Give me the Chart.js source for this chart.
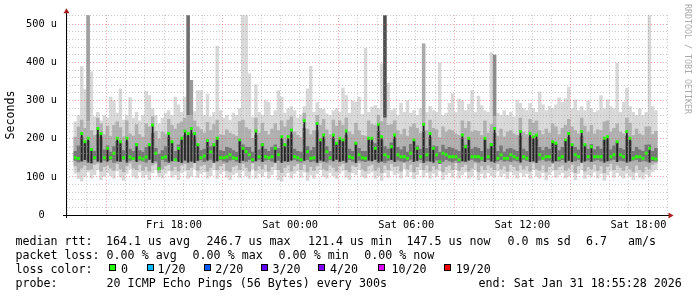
<!DOCTYPE html>
<html>
<head>
<meta charset="utf-8">
<script src="https://cdn.jsdelivr.net/npm/chart.js@4.4.1/dist/chart.umd.min.js"></script>
<style>
  body { margin: 0; background: #fff; }
  #wrap { position: relative; width: 697px; height: 297px; overflow: hidden; }
  canvas { position: absolute; left: 0; top: 0; }
  .t { position: absolute; font-family: 'DejaVu Sans Mono', monospace; font-size: 11.65px; line-height: 14px; white-space: pre; color: #000; }
  .box { position: absolute; top: 264px; width: 5px; height: 5px; border: 1px solid #000; }
  #wm { position: absolute; left: 683px; top: 4px; writing-mode: vertical-rl; font-family: 'DejaVu Sans Mono', monospace; font-size: 8.3px; color: #aaa; white-space: pre; }
</style>
</head>
<body>
<div id="wrap">
  <canvas id="canvas" width="697" height="297"></canvas>
  <div id="wm">RRDTOOL / TOBI OETIKER</div>

  <div class="t" style="left:15.4px;top:234px">median rtt:</div>
  <div class="t" style="left:106px;top:234px">164.1 us avg</div>
  <div class="t" style="left:206.5px;top:234px">246.7 us max</div>
  <div class="t" style="left:308px;top:234px">121.4 us min</div>
  <div class="t" style="left:406.4px;top:234px">147.5 us now</div>
  <div class="t" style="left:507.6px;top:234px">0.0 ms sd</div>
  <div class="t" style="left:586px;top:234px">6.7   am/s</div>

  <div class="t" style="left:15.4px;top:248px">packet loss:</div>
  <div class="t" style="left:106.6px;top:248px">0.00 % avg</div>
  <div class="t" style="left:192.6px;top:248px">0.00 % max</div>
  <div class="t" style="left:278.6px;top:248px">0.00 % min</div>
  <div class="t" style="left:364.3px;top:248px">0.00 % now</div>

  <div class="t" style="left:15.4px;top:261.7px">loss color:</div>
  <div id="losslegend"></div>

  <div class="t" style="left:15.4px;top:275.6px">probe:</div>
  <div class="t" style="left:106.6px;top:275.6px">20 ICMP Echo Pings (56 Bytes) every 300s</div>
  <div class="t" style="left:478.6px;top:275.6px">end: Sat Jan 31 18:55:28 2026</div>
</div>
<script>
// time axis: hours since Fri 00:00, one column every 10 minutes
const t0 = 12.9;      // Fri 12:54
const stepH = 1 / 6;

// median rtt (us) per column
const med = [
  150,148,214,192,201,172,150,227,214,150,
  175,150,162,201,192,150,201,152,148,184,
  150,147,152,184,236,162,121,150,152,214,
  192,145,175,201,220,214,227,214,184,150,
  155,195,165,184,201,150,150,152,158,150,
  148,197,175,166,158,145,220,153,184,153,
  150,153,175,158,205,184,205,223,153,150,
  145,247,166,149,150,240,197,210,166,150,
  210,188,201,197,220,153,150,188,158,150,
  149,201,201,175,238,205,158,153,179,210,
  158,153,153,149,162,197,175,153,238,158,
  214,175,158,140,162,158,153,153,153,145,
  210,179,201,153,153,153,149,201,153,184,
  227,149,158,149,149,158,153,149,219,153,
  149,214,205,210,158,149,153,153,192,188,
  149,153,197,214,184,158,153,219,184,153,
  179,153,153,153,201,205,153,158,192,158,
  153,219,201,149,153,153,149,162,175,149,147
];
// smoke: outer range (lightest)
const lo = [
  108,95,88,100,112,96,105,118,92,100,
  110,102,95,115,98,90,108,120,100,95,
  112,98,105,92,110,118,100,96,108,115,
  98,105,92,110,115,95,100,120,98,108,
  112,96,102,118,95,108,115,98,92,105,
  110,98,115,102,95,120,96,108,100,112,
  95,105,118,92,88,100,110,96,108,115,
  98,112,90,104,95,108,118,100,96,110,
  102,95,108,115,98,92,110,105,118,100,
  96,108,112,95,102,90,110,98,115,104,
  108,96,120,100,112,94,105,118,98,110,
  95,108,100,115,92,104,110,98,118,96,
  105,112,95,100,118,92,108,96,110,102,
  98,115,100,108,95,112,104,96,110,100,
  108,95,118,100,96,110,92,105,115,98,
  104,110,96,100,112,92,108,118,95,105,
  100,112,96,108,90,104,115,98,110,102,
  96,108,100,92,110,98,94,106,100,112,118
];
const hi = [
  245,262,390,330,600,376,258,270,248,262,
  255,310,301,268,332,250,262,309,255,270,
  248,262,325,314,280,262,240,255,268,275,
  262,310,290,270,310,600,354,272,327,327,
  262,318,258,270,444,275,255,262,250,268,
  262,280,600,600,371,258,343,270,262,300,
  296,262,275,327,310,268,280,285,275,255,
  262,285,332,391,270,296,280,278,266,262,
  275,280,270,334,314,268,300,296,310,265,
  438,270,284,288,280,397,600,347,275,280,
  262,294,270,301,268,275,262,280,450,270,
  286,275,270,399,262,268,294,319,270,305,
  301,275,292,327,270,313,288,275,270,426,
  420,268,262,275,262,270,258,301,294,280,
  275,294,280,270,323,290,275,286,280,290,
  308,296,306,336,280,303,275,285,275,299,
  280,270,275,314,280,303,285,280,399,270,
  296,334,285,270,262,280,262,270,600,285,275
];
// smoke: middle range
const mLo = [
  128,112,122,130,118,120,132,135,114,126,
  130,122,116,134,120,112,128,136,122,118,
  132,116,126,114,130,135,110,120,128,132,
  116,126,114,130,134,118,124,136,116,128,
  132,114,124,136,118,128,134,116,112,126,
  130,118,134,124,114,136,116,128,120,132,
  114,126,136,118,110,124,130,114,128,134,
  118,132,112,126,116,128,136,120,116,130,
  124,114,128,134,118,112,130,126,136,120,
  114,128,132,116,124,110,130,118,134,126,
  128,114,138,120,132,112,126,136,118,130,
  114,128,120,134,112,126,130,118,136,116,
  126,132,114,122,136,112,128,118,130,124,
  118,134,120,128,114,132,126,116,130,120,
  128,114,136,120,116,130,112,126,134,118,
  126,130,116,122,132,110,128,136,114,126,
  120,132,116,128,110,126,134,118,130,124,
  116,128,120,112,130,118,112,126,120,132,136
];
const mHi = [
  205,232,250,228,246,222,210,255,240,212,
  234,208,236,245,230,206,248,214,208,238,
  212,205,240,232,258,220,200,218,214,252,
  236,226,240,245,255,262,262,248,232,225,
  216,244,222,238,250,212,210,224,216,212,
  208,246,250,230,225,202,255,216,242,220,
  212,226,240,222,248,232,250,258,218,210,
  204,268,226,212,222,262,236,252,224,212,
  250,234,248,236,256,218,212,242,222,210,
  208,248,238,236,262,246,255,236,238,248,
  222,212,226,208,232,240,228,216,262,222,
  250,228,224,204,232,218,224,222,214,210,
  248,228,246,218,222,220,210,248,216,238,
  258,208,226,206,218,222,214,210,255,218,
  212,252,242,248,222,212,226,216,240,232,
  212,228,236,252,232,222,214,255,234,218,
  236,214,224,222,245,248,218,228,240,218,
  214,255,242,210,226,214,210,232,232,212,220
];
// smoke: dense core
const cLo = [
  142,138,140,144,138,136,145,140,138,143,
  140,144,137,141,139,145,138,142,146,139,
  143,140,138,145,137,141,118,144,139,138,
  141,145,139,137,143,138,140,137,142,144,
  139,143,145,138,141,144,140,138,143,145,
  140,137,142,139,144,138,141,145,139,143,
  144,140,138,142,137,141,139,143,145,140,
  138,142,144,139,141,137,143,140,138,144,
  141,145,139,142,138,144,140,137,143,141,
  139,143,141,145,138,140,137,142,144,139,
  143,140,138,141,145,139,142,144,137,141,
  140,138,143,134,139,144,141,138,142,137,
  141,139,143,145,140,138,142,139,144,140,
  138,141,144,140,142,139,143,141,138,145,
  142,139,141,137,143,145,140,142,138,141,
  140,144,138,142,139,141,145,138,140,143,
  139,142,144,140,138,141,143,145,139,142,
  141,138,140,143,145,139,142,140,138,141,140
];
const cHi = [
  168,182,205,188,195,176,168,212,205,172,
  182,166,180,195,188,170,195,174,168,188,
  170,166,178,185,215,176,160,170,180,205,
  190,168,185,198,210,208,215,205,185,170,
  174,192,180,188,198,170,168,178,176,170,
  166,195,185,178,178,166,210,172,188,174,
  168,178,185,176,200,188,198,212,174,168,
  166,228,180,170,178,222,192,202,180,168,
  202,186,198,192,210,174,168,190,176,168,
  168,198,192,188,220,198,180,174,190,202,
  178,172,180,166,186,195,182,174,220,176,
  205,182,180,165,184,174,178,176,172,168,
  202,184,198,174,178,176,168,198,174,188,
  215,168,182,166,174,176,172,168,208,174,
  168,205,198,202,178,170,178,174,192,186,
  170,178,195,205,186,178,172,208,186,174,
  186,172,180,174,198,200,172,182,192,176,
  172,208,196,168,178,172,168,184,185,168,176
];
// columns whose upper spike is darker than the light smoke
const spikeAt  = [4, 35, 36, 96, 108, 130];
const spikeTop = [600, 600, 354, 600, 450, 420];
const spikeShade = ['#a0a0a0', '#6e6e6e', '#9a9a9a', '#4e4e4e', '#ababab', '#8c8c8c'];

const tickHours  = [18, 24, 30, 36, 42];
const tickLabels = ['Fri 18:00', 'Sat 00:00', 'Sat 06:00', 'Sat 12:00', 'Sat 18:00'];

const lossNames  = ['0', '1/20', '2/20', '3/20', '4/20', '10/20', '19/20'];
const lossColors = ['#26ff00', '#00b8ff', '#0059ff', '#5e00ff', '#7e00ff', '#dd00ff', '#ff0000'];
const lossBoxX   = [109, 146.7, 203.7, 261, 318.3, 378.3, 444];
const lossTextX  = [121, 157.4, 215.2, 272.6, 330, 391.4, 455.8];

// legend line "loss color"
const ll = document.getElementById('losslegend');
lossNames.forEach((n, i) => {
  const b = document.createElement('div');
  b.className = 'box';
  b.style.left = lossBoxX[i] + 'px';
  b.style.background = lossColors[i];
  ll.appendChild(b);
  const s = document.createElement('div');
  s.className = 't';
  s.style.left = lossTextX[i] + 'px';
  s.style.top = '261.7px';
  s.textContent = n;
  ll.appendChild(s);
});

const xAt = i => t0 + i * stepH;
function band(a, b) {
  return a.map((v, i) => ({ x: xAt(i), y: [v, b[i]] }));
}
// black streaks only where the median jumps up
const streaks = med.map((v, i) => ({ x: xAt(i), y: [cLo[i], v] })).filter((p, i) => med[i] >= 170);

const MONO = "'DejaVu Sans Mono', monospace";
const gridGrey = 'rgba(150,150,150,0.5)';
const gridRed = 'rgba(225,90,90,0.55)';

// axis lines + red arrows like rrdtool
const axesPlugin = {
  id: 'axes',
  afterDraw(chart) {
    const { ctx, chartArea: a } = chart;
    ctx.save();
    ctx.strokeStyle = '#000';
    ctx.lineWidth = 1;
    ctx.beginPath();
    ctx.moveTo(a.left - 3, a.bottom + 0.5);
    ctx.lineTo(a.right + 1, a.bottom + 0.5);
    ctx.moveTo(a.left + 0.5, a.bottom + 3);
    ctx.lineTo(a.left + 0.5, a.top - 3);
    ctx.stroke();
    ctx.fillStyle = '#a82020';
    ctx.beginPath();
    ctx.moveTo(a.left - 2.5, a.top - 2);
    ctx.lineTo(a.left + 3.5, a.top - 2);
    ctx.lineTo(a.left + 0.5, a.top - 7);
    ctx.closePath();
    ctx.fill();
    ctx.beginPath();
    ctx.moveTo(a.right, a.bottom - 2.5);
    ctx.lineTo(a.right, a.bottom + 3.5);
    ctx.lineTo(a.right + 5, a.bottom + 0.5);
    ctx.closePath();
    ctx.fill();
    ctx.restore();
  }
};

const barBase = { type: 'bar', grouped: false, borderWidth: 0, categoryPercentage: 1, barPercentage: 1.08, clip: 0 };

new Chart(document.getElementById('canvas').getContext('2d'), {
  data: {
    datasets: [
      { ...barBase, data: band(lo, hi), backgroundColor: '#d8d8d8', order: 6 },
      { ...barBase, data: spikeAt.map((i, k) => ({ x: xAt(i), y: [mHi[i], spikeTop[k]] })),
        backgroundColor: spikeShade, order: 5 },
      { ...barBase, data: band(mLo, mHi), backgroundColor: '#b0b0b0', order: 4 },
      { ...barBase, data: band(cLo, cHi), backgroundColor: '#767676', order: 3 },
      { ...barBase, data: streaks, backgroundColor: '#262626', barPercentage: 0.55, order: 2 },
      { type: 'line', showLine: false, data: med.map((v, i) => ({ x: xAt(i), y: v })),
        pointStyle: 'rect', pointRadius: 2.1, pointBorderWidth: 0,
        backgroundColor: '#26ff00', borderColor: '#26ff00', order: 1, clip: 0 }
    ]
  },
  options: {
    responsive: false,
    animation: false,
    devicePixelRatio: 1,
    layout: { padding: { left: 0, right: 28.5, top: 15, bottom: 0 } },
    plugins: { legend: { display: false }, tooltip: { enabled: false } },
    scales: {
      x: {
        type: 'linear',
        min: 12.925,
        max: 43.05,
        afterFit: s => { s.height = 82; },
        ticks: {
          stepSize: 1, autoSkip: false, maxRotation: 0, includeBounds: false, padding: 4,
          color: '#000', font: { family: MONO, size: 10.3 },
          callback: v => { const k = tickHours.indexOf(Math.round(v)); return k >= 0 && Math.abs(v - Math.round(v)) < 1e-6 ? tickLabels[k] : ''; }
        },
        grid: {
          drawTicks: false, z: 1, lineWidth: 1, borderDash: [1, 2],
          color: c => (c.tick && Math.round(c.tick.value) % 6 === 3) ? gridRed : gridGrey
        },
        border: { display: false, dash: [1, 2] }
      },
      y: {
        min: 0,
        max: 524,
        afterFit: s => { s.width = 66; },
        ticks: {
          stepSize: 20, autoSkip: false, padding: 9,
          color: '#000', font: { family: MONO, size: 10.3 },
          callback: v => v % 100 === 0 ? (v === 0 ? '0  ' : v + ' u') : ''
        },
        title: { display: true, text: 'Seconds', color: '#000', font: { family: MONO, size: 11.65 }, padding: { top: 4, bottom: 0 } },
        grid: {
          drawTicks: false, z: 1, lineWidth: 1, borderDash: [1, 2],
          color: c => (c.tick && c.tick.value % 100 === 0) ? gridRed : gridGrey
        },
        border: { display: false, dash: [1, 2] }
      }
    }
  },
  plugins: [axesPlugin]
});
</script>
</body>
</html>
